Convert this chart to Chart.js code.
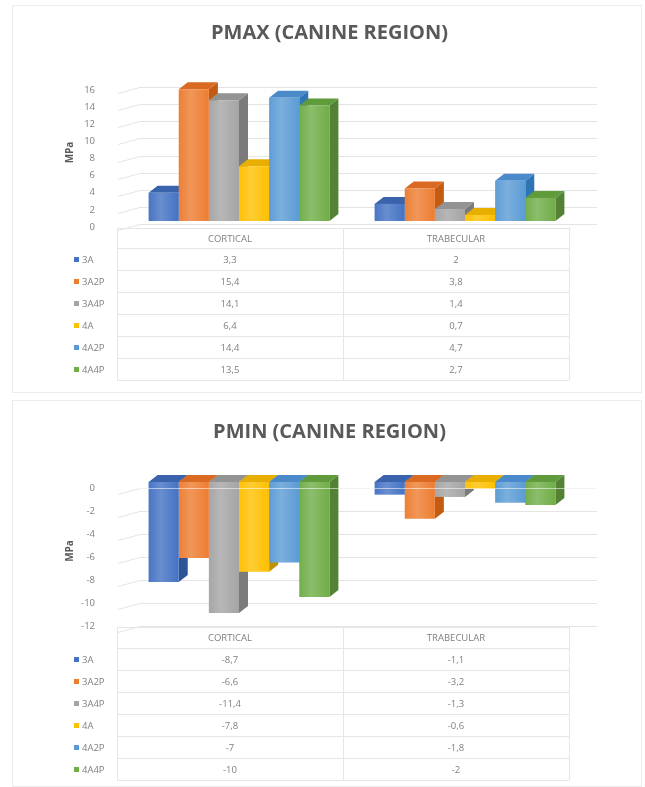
<!DOCTYPE html>
<html><head><meta charset="utf-8">
<script src="https://cdn.jsdelivr.net/npm/chart.js@4"></script>
<style>
html,body{margin:0;padding:0;background:#fff;}
body{width:645px;height:787px;position:relative;overflow:hidden;}
.box{position:absolute;left:12px;width:630px;border:1px solid #ececec;box-sizing:border-box;}
.wrap{position:absolute;left:0;width:645px;}
</style></head>
<body>
<div class="box" style="top:5px;height:388px"></div>
<div class="box" style="top:400px;height:387px"></div>
<div class="wrap" style="top:0;height:396px"><canvas id="c1" width="645" height="396"></canvas></div>
<div class="wrap" style="top:396px;height:391px"><canvas id="c2" width="645" height="391"></canvas></div>
<script>
// ---- data ----
const categories = ['CORTICAL', 'TRABECULAR'];
const seriesNames = ['3A', '3A2P', '3A4P', '4A', '4A2P', '4A4P'];
const pmaxCortical = [3.3, 15.4, 14.1, 6.4, 14.4, 13.5];
const pmaxTrabecular = [2, 3.8, 1.4, 0.7, 4.7, 2.7];
const pminCortical = [-8.7, -6.6, -11.4, -7.8, -7, -10];
const pminTrabecular = [-1.1, -3.2, -1.3, -0.6, -1.8, -2];
const pmaxTicks = [0, 2, 4, 6, 8, 10, 12, 14, 16];
const pminTicks = [-12, -10, -8, -6, -4, -2, 0];

// ---- styles ----
const frontColors = ['#4472C4', '#ED7D31', '#A5A5A5', '#FFC000', '#5B9BD5', '#70AD47'];
const sideColors  = ['#2F5597', '#C55A11', '#7B7B7B', '#BF9000', '#2E75B6', '#548235'];
const topColors   = ['#3A63AD', '#DA6A22', '#939393', '#E8AE00', '#4A8ACA', '#5F9A3B'];
const DX = 9, DY = 7;
const FONT = 'Open Sans';

const fmt = v => String(v).replace('.', ',');

const threeD = {
  id: 'threeD',
  beforeDatasetsDraw(chart, args, opts) {
    const ctx = chart.ctx, ca = chart.chartArea, ys = chart.scales.y;
    ctx.save();
    ctx.strokeStyle = '#e4e4e4';
    ctx.lineWidth = 1;
    ys.ticks.forEach(t => {
      const y = Math.round(ys.getPixelForValue(t.value) + opts.gridShift) + 0.5;
      ctx.beginPath();
      ctx.moveTo(ca.left - 8, y + 6);
      ctx.lineTo(ca.left + 14, y);
      ctx.lineTo(ca.right + 19, y);
      ctx.stroke();
    });
    chart.data.datasets.forEach((ds, di) => {
      const meta = chart.getDatasetMeta(di);
      meta.data.forEach(bar => {
        const p = bar.getProps(['x', 'y', 'base', 'width'], true);
        const l = p.x - p.width / 2, r = p.x + p.width / 2;
        const top = Math.min(p.y, p.base), bot = Math.max(p.y, p.base);
        ctx.fillStyle = ds.sideColor;
        ctx.beginPath();
        ctx.moveTo(r, top); ctx.lineTo(r + DX, top - DY);
        ctx.lineTo(r + DX, bot - DY); ctx.lineTo(r, bot);
        ctx.closePath(); ctx.fill();
        ctx.fillStyle = ds.topColor;
        ctx.beginPath();
        ctx.moveTo(l, top); ctx.lineTo(l + DX, top - DY);
        ctx.lineTo(r + DX, top - DY); ctx.lineTo(r, top);
        ctx.closePath(); ctx.fill();
      });
    });
    ctx.restore();
  },
  afterDatasetsDraw(chart, args, opts) {
    const ctx = chart.ctx, ca = chart.chartArea, ys = chart.scales.y;
    ctx.save();
    chart.data.datasets.forEach((ds, di) => {
      const meta = chart.getDatasetMeta(di);
      meta.data.forEach(bar => {
        const p = bar.getProps(['x', 'y', 'base', 'width'], true);
        const l = p.x - p.width / 2, r = p.x + p.width / 2;
        const top = Math.min(p.y, p.base), bot = Math.max(p.y, p.base);
        const g = ctx.createLinearGradient(l, 0, r, 0);
        g.addColorStop(0, 'rgba(255,255,255,0.02)');
        g.addColorStop(0.4, 'rgba(255,255,255,0.2)');
        g.addColorStop(1, 'rgba(255,255,255,0)');
        ctx.fillStyle = g;
        ctx.fillRect(l, top, p.width, bot - top);
      });
    });
    if (opts.zeroLine) {
      const y = Math.round(ys.getPixelForValue(0) + opts.gridShift) + 0.5;
      ctx.strokeStyle = 'rgba(255,255,255,0.55)';
      ctx.lineWidth = 1;
      ctx.beginPath();
      ctx.moveTo(ca.left + 14, y);
      ctx.lineTo(ca.right + 19, y);
      ctx.stroke();
    }
    ctx.restore();
  }
};

const dataTable = {
  id: 'dataTable',
  afterDraw(chart, args, opts) {
    const ctx = chart.ctx, xs = chart.scales.x, ca = chart.chartArea;
    const shift = -9;
    const cols = [xs.getPixelForValue(-0.5) + shift, xs.getPixelForValue(0.5) + shift, xs.getPixelForValue(1.5) + shift];
    const top = ca.bottom + 7;
    const hh = opts.headerH, rh = 22;
    const nRows = chart.data.datasets.length;
    const bottom = top + hh + rh * nRows;
    ctx.save();
    ctx.strokeStyle = '#e6e6e6';
    ctx.lineWidth = 1;
    const ylines = [top, top + hh];
    for (let i = 1; i <= nRows; i++) ylines.push(top + hh + rh * i);
    ylines.forEach(y => {
      const yy = Math.round(y) + 0.5;
      ctx.beginPath(); ctx.moveTo(cols[0], yy); ctx.lineTo(cols[2], yy); ctx.stroke();
    });
    cols.forEach(x => {
      const xx = Math.round(x) + 0.5;
      ctx.beginPath(); ctx.moveTo(xx, top); ctx.lineTo(xx, bottom); ctx.stroke();
    });
    ctx.fillStyle = '#7f7f7f';
    ctx.font = '9.5px "' + FONT + '"';
    ctx.textAlign = 'center';
    ctx.textBaseline = 'middle';
    const centers = [(cols[0] + cols[1]) / 2, (cols[1] + cols[2]) / 2];
    chart.data.labels.forEach((lab, ci) => ctx.fillText(lab, centers[ci], top + hh / 2 + 1));
    chart.data.datasets.forEach((ds, di) => {
      const cy = top + hh + rh * di + rh / 2 + 1;
      ds.data.forEach((v, ci) => {
        ctx.fillStyle = '#7f7f7f';
        ctx.textAlign = 'center';
        ctx.fillText(fmt(v), centers[ci], cy);
      });
      ctx.fillStyle = ds.backgroundColor;
      ctx.fillRect(74, Math.round(cy) - 3, 5, 5);
      ctx.fillStyle = '#7f7f7f';
      ctx.textAlign = 'left';
      ctx.fillText(ds.label, 82, cy);
    });
    ctx.restore();
  }
};

function makeChart(id, title, cortical, trabecular, tickVals, cfg) {
  return new Chart(document.getElementById(id), {
    type: 'bar',
    data: {
      labels: categories,
      datasets: seriesNames.map((n, i) => ({
        label: n,
        data: [cortical[i], trabecular[i]],
        backgroundColor: frontColors[i],
        sideColor: sideColors[i],
        topColor: topColors[i],
        borderWidth: 0
      }))
    },
    options: {
      responsive: false,
      animation: false,
      devicePixelRatio: 1,
      layout: { padding: { left: 14, right: 0, top: 0, bottom: 0 } },
      datasets: { bar: { categoryPercentage: 0.8, barPercentage: 1.0 } },
      plugins: {
        legend: { display: false },
        tooltip: { enabled: false },
        title: {
          display: true, text: title, color: '#595959',
          font: { family: FONT, size: 20, weight: 'bold' },
          padding: { top: cfg.titleTop, bottom: cfg.titleBottom }
        },
        threeD: { gridShift: cfg.gridShift, zeroLine: cfg.zeroLine },
        dataTable: { headerH: cfg.headerH }
      },
      scales: {
        x: {
          ticks: { display: false }, grid: { display: false }, border: { display: false },
          afterFit(s) { s.height = cfg.xHeight; }
        },
        y: {
          min: tickVals[0], max: tickVals[tickVals.length - 1],
          afterBuildTicks(s) { s.ticks = tickVals.map(v => ({ value: v })); },
          ticks: { color: '#808080', font: { family: FONT, size: 9.5 }, padding: 23, labelOffset: cfg.labelOffset },
          grid: { display: false }, border: { display: false },
          title: { display: true, text: 'MPa', color: '#595959', font: { family: FONT, size: 10, weight: 'bold' }, padding: { top: 50 } },
          afterFit(s) { s.width = 112; }
        },
        yR: {
          position: 'right', display: true,
          ticks: { display: false }, grid: { display: false }, border: { display: false },
          afterFit(s) { s.width = 67; }
        }
      }
    },
    plugins: [threeD, dataTable]
  });
}

makeChart('c1', 'PMAX (CANINE REGION)', pmaxCortical, pmaxTrabecular, pmaxTicks,
  { titleTop: 21, titleBottom: 39, xHeight: 175, gridShift: 3, labelOffset: 6, headerH: 20, zeroLine: false });
makeChart('c2', 'PMIN (CANINE REGION)', pminCortical, pminTrabecular, pminTicks,
  { titleTop: 24, titleBottom: 38, xHeight: 167, gridShift: 6, labelOffset: 6, headerH: 21, zeroLine: true });
</script>
</body></html>
